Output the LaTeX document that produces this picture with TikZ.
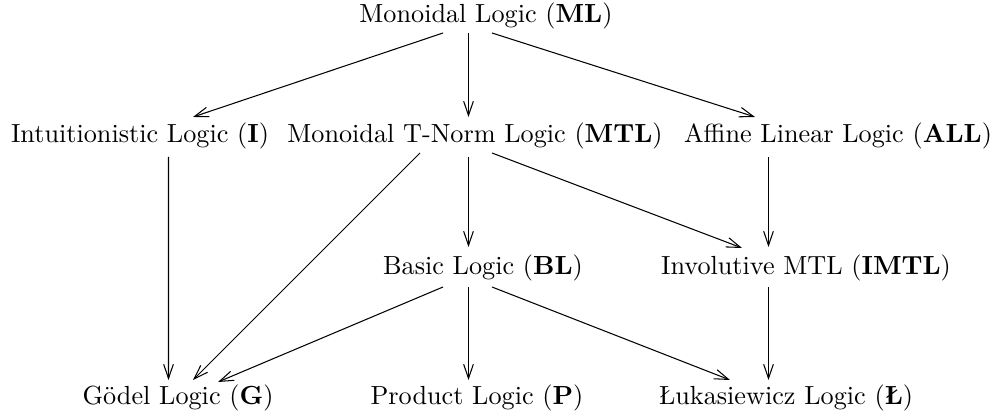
\documentclass[tikz,border=0pt]{standalone}
\usepackage{fontspec}
\usetikzlibrary{arrows.meta,calc}
\begin{document}
\begin{tikzpicture}[x=0.3817pt,y=-0.3817pt,
  lbl/.style={anchor=base,inner sep=0pt,outer sep=0pt,font=\fontsize{10}{12}\selectfont},
  arr/.style={line width=0.4pt,-{Straight Barb[length=5.4pt,width=3.7pt,line width=0.4pt]}}]
\useasboundingbox (0,0) rectangle (997,418);
\node[lbl] (ML)   at (486,23)  {Monoidal Logic (\textbf{ML})};
\node[lbl] (I)    at (140,143) {Intuitionistic Logic (\textbf{I})};
\node[lbl] (MTL)  at (475,143) {Monoidal T-Norm Logic (\textbf{MTL})};
\node[lbl] (ALL)  at (838,143) {Affine Linear Logic (\textbf{ALL})};
\node[lbl] (BL)   at (483,275) {Basic Logic (\textbf{BL})};
\node[lbl] (IMTL) at (806,275) {Involutive MTL (\textbf{IMTL})};
\node[lbl] (G)    at (178,405) {Gödel Logic (\textbf{G})};
\node[lbl] (P)    at (477,405) {Product Logic (\textbf{P})};
\node[lbl] (L)    at (786,405) {Łukasiewicz Logic (\textbf{Ł})};
% from ML
\draw[arr] ($(ML.base)+(-43,10)$) -- ($(I.base)+(53,-26)$);
\draw[arr] ($(ML.base)+(-17.5,10)$) -- ($(MTL.base)+(-6.5,-26)$);
\draw[arr] ($(ML.base)+(6,10)$)   -- ($(ALL.base)+(-83,-26)$);
% from I
\draw[arr] ($(I.base)+(28.5,14)$) -- ($(G.base)+(-9.5,-25)$);
% from MTL
\draw[arr] ($(MTL.base)+(-55,10)$) -- ($(G.base)+(15,-25)$);
\draw[arr] ($(MTL.base)+(-6.5,14)$)  -- ($(BL.base)+(-14.5,-28)$);
\draw[arr] ($(MTL.base)+(17,10)$)  -- ($(IMTL.base)+(-64,-27)$);
% from ALL
\draw[arr] ($(ALL.base)+(-69.5,14)$) -- ($(IMTL.base)+(-37.5,-28)$);
% from BL
\draw[arr] ($(BL.base)+(-40,12)$) -- ($(G.base)+(40,-23)$);
\draw[arr] ($(BL.base)+(-14.5,12)$) -- ($(P.base)+(-8.5,-25)$);
\draw[arr] ($(BL.base)+(9,12)$)   -- ($(L.base)+(-56,-25)$);
% from IMTL
\draw[arr] ($(IMTL.base)+(-37.5,12)$) -- ($(L.base)+(-17.5,-25)$);
\end{tikzpicture}
\end{document}
